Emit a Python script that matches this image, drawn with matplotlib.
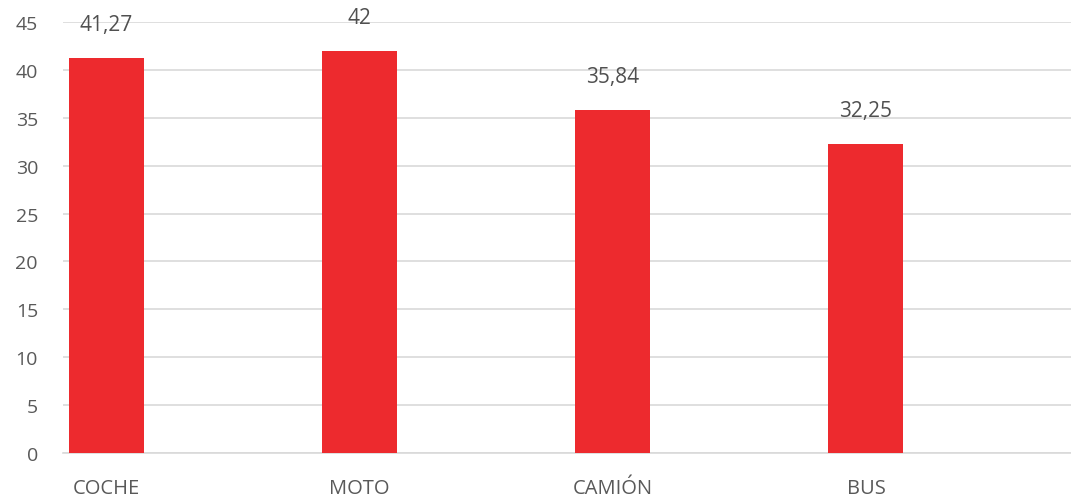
import matplotlib
matplotlib.use("Agg")
import matplotlib.pyplot as plt

# Chart data
categories = ["COCHE", "MOTO", "CAMIÓN", "BUS"]
values = [41.27, 42, 35.84, 32.25]
value_labels = ["41,27", "42", "35,84", "32,25"]
y_ticks = [0, 5, 10, 15, 20, 25, 30, 35, 40, 45]

plt.rcParams['font.family'] = ['Open Sans', 'DejaVu Sans']

fig = plt.figure(figsize=(10.71, 5.02), dpi=100)
ax = fig.add_axes([63 / 1071, 48 / 502, 1008 / 1071, 431 / 502])

x = list(range(len(categories)))
bars = ax.bar(x, values, width=0.296, color="#ED2A2E", zorder=3)

# Value labels above each bar
for rect, lab in zip(bars, value_labels):
    ax.annotate(lab, (rect.get_x() + rect.get_width() / 2, rect.get_height()),
                xytext=(0, 24), textcoords="offset points",
                ha="center", va="center", fontsize=15, color="#505050")

ax.set_xlim(-0.172, 3.81)
ax.set_ylim(0, 45)
ax.set_yticks(y_ticks)
ax.set_xticks(x)
ax.set_xticklabels(categories)

ax.grid(axis="y", color="#D9D9D9", linewidth=1.2, zorder=0)
for side in ["top", "right", "left"]:
    ax.spines[side].set_visible(False)
ax.spines["bottom"].set_color("#D9D9D9")
ax.spines["bottom"].set_linewidth(1.2)

ax.tick_params(axis="both", length=0, labelcolor="#595959")
ax.tick_params(axis="y", pad=18, labelsize=14)
ax.tick_params(axis="x", pad=18, labelsize=14.5)

fig.savefig("out.png", dpi=100, facecolor="white")
